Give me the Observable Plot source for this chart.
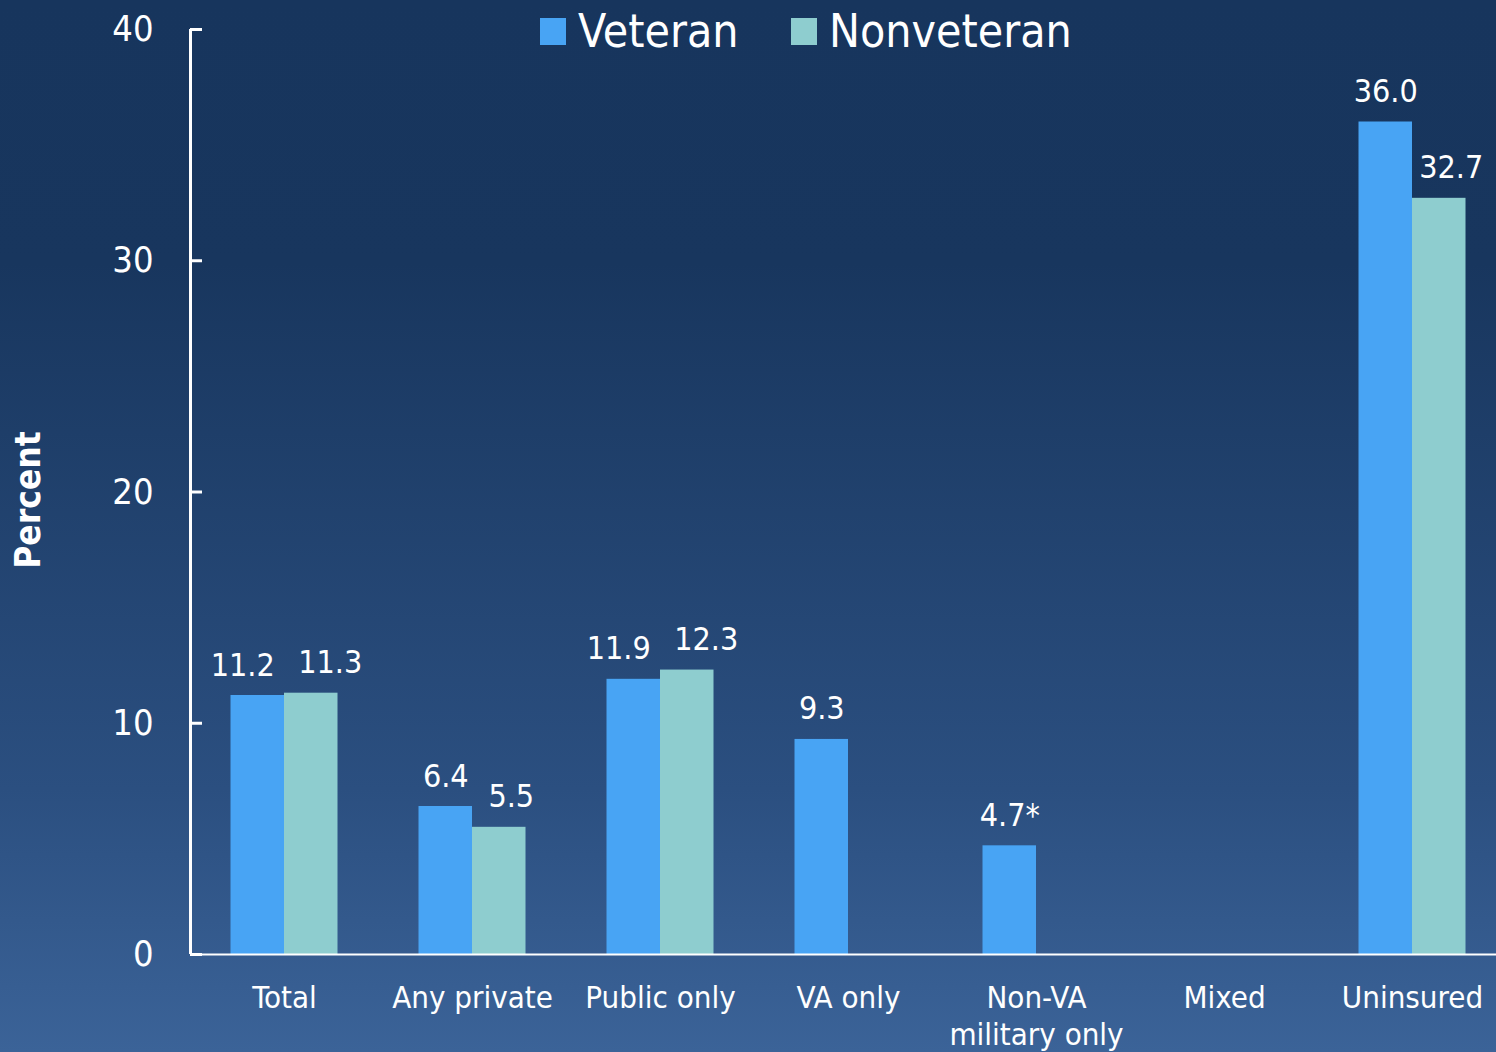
<!DOCTYPE html>
<html>
<head>
<meta charset="utf-8">
<script src="https://cdn.jsdelivr.net/npm/d3@7"></script>
<script src="https://cdn.jsdelivr.net/npm/@observablehq/plot@0.6"></script>
<style>
  html, body { margin: 0; padding: 0; overflow: hidden; }
  body {
    width: 1496px; height: 1052px; position: relative;
    background: linear-gradient(to bottom, #17355d 0%, #18365e 25%, #2b4f80 75%, #3b6398 100%);
    font-family: "DejaVu Sans Condensed", "DejaVu Sans", sans-serif;
  }
  #chart { position: absolute; left: 0; top: 0; }
  #chart svg { background: transparent; overflow: hidden; max-width: none; }
  .legend { position: absolute; top: 0; left: 0; color: white; font-size: 46px; }
  .sw { position: absolute; width: 26px; height: 27px; top: 18px; }
  .lt { position: absolute; top: 8px; line-height: 46px; white-space: nowrap; }
</style>
</head>
<body>
<div id="chart"></div>
<div class="legend" id="legend"></div>
<script>
const categories = ["Total", "Any private", "Public only", "VA only", "Non-VA military only", "Mixed", "Uninsured"];
const categoryLabels = ["Total", "Any private", "Public only", "VA only", "Non-VA\nmilitary only", "Mixed", "Uninsured"];
const veteran = [11.2, 6.4, 11.9, 9.3, 4.7, null, 36.0];
const nonveteran = [11.3, 5.5, 12.3, null, null, null, 32.7];
const veteranNotes = ["", "", "", "", "*", "", ""];
const series = ["Veteran", "Nonveteran"];
const seriesColors = ["#48a4f4", "#8ecdcf"];
const yTicks = [0, 10, 20, 30, 40];

const W = 1496, H = 1052, mL = 190, mR = -10, mT = 29, mB = 98;
const step = (W - mL - mR) / categories.length;
const barW = 53.5;
const half = step / 2;

const rows = [];
categories.forEach((c, i) => {
  const both = veteran[i] != null && nonveteran[i] != null;
  const close = both && Math.abs(veteran[i] - nonveteran[i]) < 0.5;
  if (veteran[i] != null) rows.push({category: c, series: "Veteran", value: veteran[i],
    label: veteran[i].toFixed(1) + veteranNotes[i], shift: close ? "left" : "none"});
  if (nonveteran[i] != null) rows.push({category: c, series: "Nonveteran", value: nonveteran[i],
    label: nonveteran[i].toFixed(1), shift: close ? "far" : both ? "right" : "none"});
});
const vetRows = rows.filter(d => d.series === "Veteran");
const nonRows = rows.filter(d => d.series === "Nonveteran");

const labelStyle = {x: "category", y: "value", text: "label", dy: -20, lineAnchor: "bottom", fill: "white", fontSize: 32};

const plot = Plot.plot({
  width: W, height: H,
  marginLeft: mL, marginRight: mR, marginTop: mT, marginBottom: mB,
  style: {background: "transparent", fontFamily: "DejaVu Sans Condensed, DejaVu Sans, sans-serif", overflow: "hidden"},
  x: {domain: categories, padding: 0, axis: null},
  y: {domain: [0, 40], axis: null},
  color: {domain: series, range: seriesColors},
  marks: [
    Plot.barY(vetRows, {x: "category", y: "value", fill: "series", insetLeft: half - barW, insetRight: half}),
    Plot.barY(nonRows, {x: "category", y: "value", fill: "series", insetLeft: half, insetRight: half - barW}),
    Plot.text(vetRows.filter(d => d.shift === "none"), {...labelStyle, dx: -barW / 2}),
    Plot.text(vetRows.filter(d => d.shift === "left"), {...labelStyle, dx: -barW / 2 - 15}),
    Plot.text(nonRows.filter(d => d.shift === "none"), {...labelStyle, dx: barW / 2}),
    Plot.text(nonRows.filter(d => d.shift === "right"), {...labelStyle, dx: barW / 2 + 12}),
    Plot.text(nonRows.filter(d => d.shift === "far"), {...labelStyle, dx: barW / 2 + 19}),
    Plot.ruleY([0], {stroke: "white", strokeWidth: 2}),
    Plot.ruleX([categories[0]], {y1: 0, y2: 40, dx: -half, stroke: "white", strokeWidth: 3}),
    Plot.axisY({ticks: yTicks, tickSize: 12, dx: 12, stroke: "white", fill: "none", strokeWidth: 3, label: null}),
    Plot.axisY({ticks: yTicks, tickSize: 0, tickPadding: 37, fill: "white", fontSize: 36, label: null, tickFormat: d => String(d)}),
    Plot.axisX({tickSize: 0, tickPadding: 27, fill: "white", fontSize: 31, lineHeight: 1.2, label: null,
      tickFormat: d => categoryLabels[categories.indexOf(d)]}),
    Plot.text(["Percent"], {frameAnchor: "left", dx: -162, dy: 8, rotate: -90, textAnchor: "middle", fill: "white",
      fontSize: 35, fontWeight: "bold"})
  ]
});
document.getElementById("chart").appendChild(plot);

const legend = document.getElementById("legend");
const legendPos = [{sw: 540, tx: 578}, {sw: 791, tx: 829}];
series.forEach((s, i) => {
  const sw = document.createElement("div");
  sw.className = "sw"; sw.style.left = legendPos[i].sw + "px"; sw.style.background = seriesColors[i];
  const t = document.createElement("div");
  t.className = "lt"; t.style.left = legendPos[i].tx + "px"; t.textContent = s;
  legend.appendChild(sw); legend.appendChild(t);
});
</script>
</body>
</html>
